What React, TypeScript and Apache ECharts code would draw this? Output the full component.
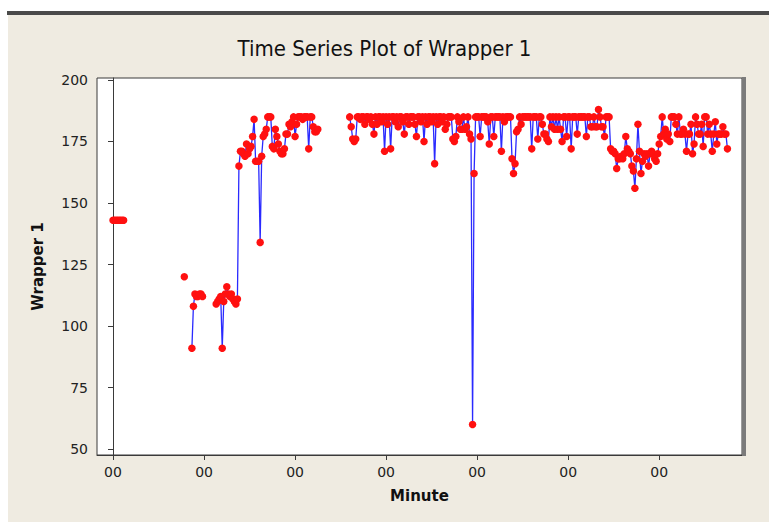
import React, { useEffect, useRef } from "react";
import * as echarts from "echarts";

const TITLE = "Time Series Plot of Wrapper 1";
const X_NAME = "Minute";
const Y_NAME = "Wrapper 1";
const X_TICKS = [0, 60, 120, 180, 240, 300, 360];
const X_TICK_LABEL = "00";
const Y_TICKS = [50, 75, 100, 125, 150, 175, 200];

const N = null;
// observations 0..405 (one per minute)
const seg0 = [143, 143, 143, 143, 143, 143, 143, 143];
const gap1 = [N, N, N, N, N, N, N, N, N, N, N, N, N, N, N, N, N, N, N, N, N, N, N, N, N, N, N, N, N, N, N, N, N, N, N, N, N, N, N];
const seg1 = [120];
const gap2 = [N, N, N, N];
const seg2 = [91, 108, 113, 112, 112, 113, 113, 112];
const gap3 = [N, N, N, N, N, N, N, N];
const seg3 = [
  109, 110, 111, 112, 91, 110, 113, 116, 113, 112, 113, 111, 110, 109, 111,
  165, 171, 171, 170, 169, 174, 170, 172, 173, 177, 184, 167, 167, 167, 134,
  169, 177, 178, 180, 185, 185, 185, 173, 172, 180, 177, 174, 171, 170, 170,
  172, 178, 178, 182, 181, 183, 185, 177, 182, 185, 185, 185, 184, 185, 185,
  185, 172, 185, 185, 181, 179, 179, 180,
];
const gap4 = [N, N, N, N, N, N, N, N, N, N, N, N, N, N, N, N, N, N, N, N];
const seg4 = [
  185, 181, 176, 175, 176, 185, 185, 184, 185, 185, 182, 185, 185, 184, 185,
  182, 178, 185, 182, 185, 185, 183, 185, 171, 185, 182, 185, 172, 185, 185,
  183, 185, 181, 185, 185, 183, 178, 185, 185, 182, 185, 185, 185, 182, 177,
  185, 185, 183, 185, 175, 185, 182, 185, 185, 183, 185, 166, 185, 182, 185,
  185, 183, 185, 180, 182, 185, 185, 185, 176, 175, 177, 185, 183, 180, 180,
  185, 180, 181, 185, 178, 176, 60, 162, 185, 185, 185, 177, 185, 185, 185,
  185, 183, 174, 185, 185, 177, 185, 185, 185, 185, 171, 185, 183, 185, 185,
  185, 185, 168, 162, 166, 179, 180, 185, 182, 185, 185, 185, 185, 185, 185,
  172, 185, 185, 185, 176, 185, 185, 182, 178, 178, 176, 175, 185, 181, 185,
  180, 185, 180, 185, 180, 175, 185, 185, 177, 185, 185, 172, 185, 185, 185,
  178, 185, 185, 185, 185, 185, 177, 185, 185, 181, 181, 185, 181, 181, 188,
  185, 181, 181, 177, 185, 185, 185, 172, 171, 171, 170, 164, 168, 168, 169,
  168, 170, 177, 172, 171, 170, 165, 163, 156, 168, 182, 171, 162, 167, 170,
  169, 170, 165, 170, 171, 170, 168, 167, 170, 174, 177, 185, 178, 180, 176,
  178, 175, 185, 185, 185, 182, 178, 185, 178, 178, 180, 178, 171, 178, 178,
  182, 170, 174, 185, 182, 178, 178, 182, 173, 185, 185, 178, 182, 178, 171,
  178, 183, 174, 178, 178, 178, 181, 178, 178, 172,
];
const wrapper1: (number | null)[] = [
  ...seg0, ...gap1, ...seg1, ...gap2, ...seg2, ...gap3, ...seg3, ...gap4, ...seg4,
];

export default function App() {
  const ref = useRef<HTMLDivElement>(null);
  useEffect(() => {
    if (!ref.current) return;
    const chart = echarts.init(ref.current, null, { renderer: "svg" });
    const data = wrapper1.map((v, i) => [i, v]);
    const font = "DejaVu Sans";
    chart.setOption({
      animation: false,
      backgroundColor: "#efebe1",
      title: {
        text: TITLE,
        left: "center",
        top: 32,
        textStyle: { fontFamily: "'DejaVu Sans Condensed', 'DejaVu Sans'", fontSize: 22, fontWeight: "normal", color: "#111" },
      },
      grid: {
        left: 97, top: 78, width: 645, height: 377,
        show: true, backgroundColor: "#ffffff", borderColor: "#3a3a3a", borderWidth: 1,
      },
      xAxis: {
        type: "value",
        min: -10.55, max: 414.6,
        name: X_NAME, nameLocation: "middle", nameGap: 33,
        nameTextStyle: { fontFamily: font, fontSize: 15, fontWeight: "bold", color: "#111" },
        axisLine: { show: true, lineStyle: { color: "#3a3a3a" } },
        axisTick: { show: true, length: 5, customValues: X_TICKS, lineStyle: { color: "#3a3a3a" } },
        axisLabel: { customValues: X_TICKS, formatter: () => X_TICK_LABEL, margin: 10, fontFamily: font, fontSize: 14, color: "#222" },
        splitLine: { show: false },
      },
      yAxis: {
        type: "value",
        min: 47.6, max: 200.8,
        name: Y_NAME, nameLocation: "middle", nameGap: 52, nameRotate: 90,
        nameTextStyle: { fontFamily: font, fontSize: 15, fontWeight: "bold", color: "#111" },
        axisLine: { show: true, lineStyle: { color: "#3a3a3a" } },
        axisTick: { show: true, length: 5, customValues: Y_TICKS, lineStyle: { color: "#3a3a3a" } },
        axisLabel: { customValues: Y_TICKS, margin: 9, fontFamily: font, fontSize: 14, color: "#222" },
        splitLine: { show: false },
      },
      graphic: [
        { type: "rect", shape: { x: 0, y: 0, width: 769, height: 11 }, style: { fill: "#ffffff" } },
        { type: "rect", shape: { x: 0, y: 0, width: 8, height: 525 }, style: { fill: "#ffffff" } },
        { type: "rect", shape: { x: 0, y: 522, width: 769, height: 3 }, style: { fill: "#ffffff" } },
        { type: "rect", shape: { x: 7, y: 11, width: 762, height: 4 }, style: { fill: "#4a4a4a" } },
        { type: "rect", z: 100, shape: { x: 742, y: 77, width: 4, height: 379 }, style: { fill: "#7b7b7b" } },
      ],
      series: [
        {
          type: "line",
          data,
          connectNulls: false,
          showAllSymbol: true,
          symbol: "circle",
          symbolSize: 7.5,
          itemStyle: { color: "#ff1010" },
          lineStyle: { color: "#2a2aff", width: 1.3 },
          emphasis: { disabled: true },
        },
      ],
    });
    return () => chart.dispose();
  }, []);
  return (
    <div style={{ position: "fixed", left: 0, top: 0, width: 769, height: 525 }}>
      <div ref={ref} style={{ width: 769, height: 525 }} />
    </div>
  );
}
